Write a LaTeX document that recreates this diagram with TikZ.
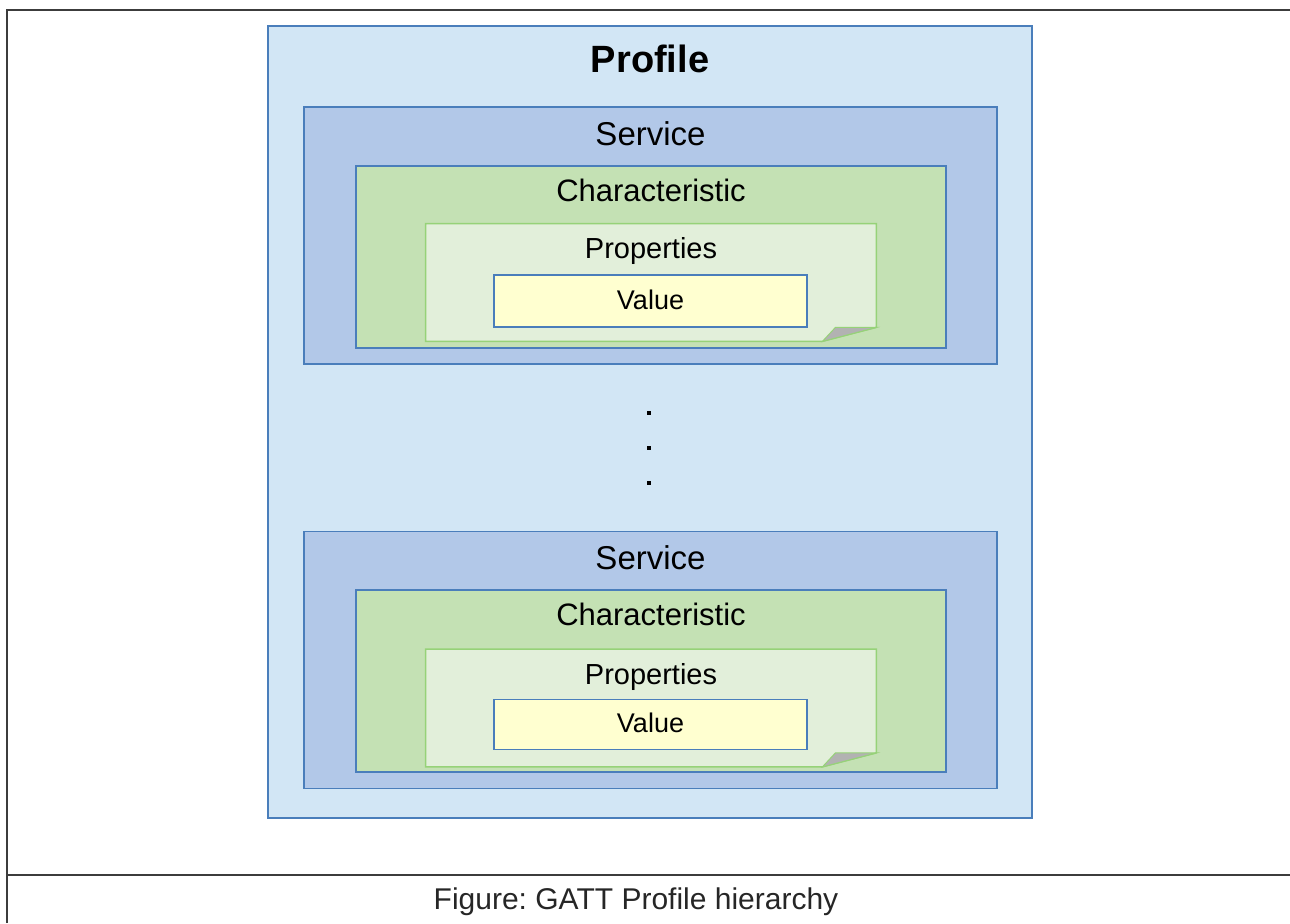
\documentclass[tikz,border=0pt]{standalone}
\usepackage{fontspec}
\setmainfont{Liberation Sans}
\usetikzlibrary{positioning}
\frenchspacing

\definecolor{profilefill}{RGB}{210,230,245}
\definecolor{servicefill}{RGB}{178,200,232}
\definecolor{charfill}{RGB}{196,225,180}
\definecolor{propfill}{RGB}{226,239,218}
\definecolor{valuefill}{RGB}{255,255,208}
\definecolor{boxline}{RGB}{74,126,187}
\definecolor{propline}{RGB}{150,210,120}
\definecolor{foldgray}{RGB}{178,178,178}
\definecolor{frameline}{RGB}{60,60,60}

\begin{document}
\begin{tikzpicture}[x=0.5pt,y=-0.5pt,
    box/.style={draw=boxline, inner sep=0pt, line width=0.8pt},
    profilebox/.style={box, fill=profilefill, line width=1.1pt,
      minimum width=382pt, minimum height=396pt},
    servicebox/.style={box, fill=servicefill, line width=0.9pt,
      minimum width=346.5pt, minimum height=128.5pt},
    charbox/.style={box, fill=charfill, line width=0.7pt,
      minimum width=295pt, minimum height=91pt},
    propbox/.style={inner sep=0pt, minimum width=225pt, minimum height=58.5pt},
    valuebox/.style={box, fill=valuefill,
      minimum width=156.5pt, minimum height=26pt},
    lbl/.style={anchor=base, inner sep=0pt, text=black},
    dotmark/.style={fill=black, inner sep=0pt, minimum size=2.4pt},
    frame/.style={draw=frameline, line width=1pt}]

  \useasboundingbox (0,0) rectangle (1290,923);

  % outer frame
  \coordinate (ftl) at (7,10);
  \coordinate (ftr) at (1290,10);
  \coordinate (fbl) at (7,923);
  \coordinate (fml) at (7,875);
  \coordinate (fmr) at (1290,875);
  \draw[frame] (fbl) -- (ftl) -- (ftr);
  \draw[frame] (fml) -- (fmr);

  % profile
  \node[profilebox] (profile) at (650,422) {};
  \node[lbl, font=\fontsize{19}{22}\selectfont\bfseries] (profile-t) at ([yshift=-24pt]profile.north) {Profile};

  % first service
  \node[servicebox] (serv1) at (650.5,235.5) {};
  \node[lbl, font=\fontsize{16.5}{19}\selectfont] (serv1-t) at ([yshift=-19.5pt]serv1.north) {Service};
  \node[charbox] (char1) at (651,257) {};
  \node[lbl, font=\fontsize{15.5}{18}\selectfont] (char1-t) at ([yshift=-18pt]char1.north) {Characteristic};
  \node[propbox] (prop1) at (651,282.5) {};
  \filldraw[fill=propfill, draw=propline, line width=0.7pt]
    (prop1.north west) -- (prop1.north east) -- ([yshift=7pt]prop1.south east)
    -- ([xshift=-27pt]prop1.south east) -- (prop1.south west) -- cycle;
  \filldraw[fill=foldgray, draw=propline, line width=0.5pt]
    ([xshift=-27pt]prop1.south east) -- ([xshift=-20.5pt,yshift=7pt]prop1.south east)
    -- ([yshift=7pt]prop1.south east) -- cycle;
  \node[lbl, font=\fontsize{14.5}{17}\selectfont] (prop1-t) at ([yshift=-17.5pt]prop1.north) {Properties};
  \node[valuebox] (val1) at (650.5,301) {};
  \node[lbl, font=\fontsize{13.5}{16}\selectfont] (val1-t) at ([yshift=-17.5pt]val1.north) {Value};

  % dots
  \node[dotmark] (dot1) at (649,413) {};
  \node[dotmark] (dot2) at (649,448) {};
  \node[dotmark] (dot3) at (649,483) {};

  % second service
  \node[servicebox] (serv2) at (650.5,660) {};
  \node[lbl, font=\fontsize{16.5}{19}\selectfont] (serv2-t) at ([yshift=-19.5pt]serv2.north) {Service};
  \node[charbox] (char2) at (651,681) {};
  \node[lbl, font=\fontsize{15.5}{18}\selectfont] (char2-t) at ([yshift=-18pt]char2.north) {Characteristic};
  \node[propbox] (prop2) at (651,708) {};
  \filldraw[fill=propfill, draw=propline, line width=0.7pt]
    (prop2.north west) -- (prop2.north east) -- ([yshift=7pt]prop2.south east)
    -- ([xshift=-27pt]prop2.south east) -- (prop2.south west) -- cycle;
  \filldraw[fill=foldgray, draw=propline, line width=0.5pt]
    ([xshift=-27pt]prop2.south east) -- ([xshift=-20.5pt,yshift=7pt]prop2.south east)
    -- ([yshift=7pt]prop2.south east) -- cycle;
  \node[lbl, font=\fontsize{14.5}{17}\selectfont] (prop2-t) at ([yshift=-17.5pt]prop2.north) {Properties};
  \node[valuebox, minimum height=25pt] (val2) at (650.5,724.5) {};
  \node[lbl, font=\fontsize{13.5}{16}\selectfont] (val2-t) at ([yshift=-17pt]val2.north) {Value};

  % caption
  \node[lbl, font=\fontsize{15}{18}\selectfont, text=black!85] (caption) at (636,909) {Figure: GATT Profile hierarchy};
\end{tikzpicture}
\end{document}
